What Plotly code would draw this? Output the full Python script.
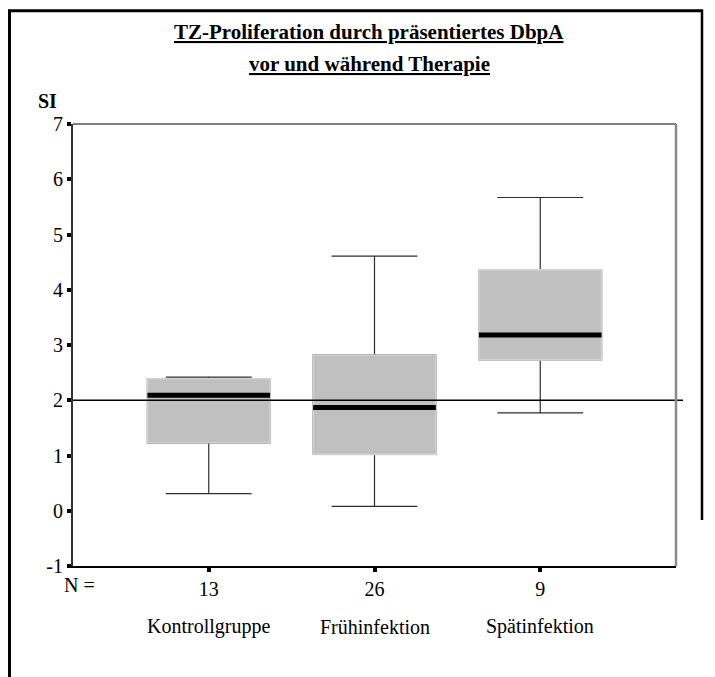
import plotly.graph_objects as go

# Group data: T-cell proliferation (stimulation index) per patient group
categories = ["Kontrollgruppe", "Frühinfektion", "Spätinfektion"]
counts = [13, 26, 9]
lower_whisker = [0.31, 0.08, 1.77]
q1 = [1.23, 1.02, 2.73]
median = [2.09, 1.87, 3.18]
q3 = [2.39, 2.82, 4.36]
upper_whisker = [2.42, 4.61, 5.67]
threshold = 2.0
y_ticks = [-1, 0, 1, 2, 3, 4, 5, 6, 7]
y_tick_text = ["-1", "0", "1", "2", "3", "4", "5", "6", "7"]

positions = [i + 1 for i in range(len(categories))]
box_width = 0.74
FONT = "Liberation Serif"

# Plot area in pixels (used to place page-level decoration)
W, H = 715, 677
L, R, T, B = 73, 676, 123.5, 566


def px(x):
    return (x - L) / (R - L)


def py(y):
    return (B - y) / (B - T)


fig = go.Figure()

# Whiskers (dark) with box
for p, lo, a, m, b, hi in zip(positions, lower_whisker, q1, median, q3, upper_whisker):
    fig.add_trace(go.Box(
        x=[p], q1=[a], median=[m], q3=[b], lowerfence=[lo], upperfence=[hi],
        width=box_width, whiskerwidth=0.7,
        line=dict(color="#2e2e2e", width=1.2),
        fillcolor="#c0c0c0", boxpoints=False, hoverinfo="skip", showlegend=False,
    ))

# Box body with light outline on top of the whisker trace
for p, a, m, b in zip(positions, q1, median, q3):
    fig.add_trace(go.Box(
        x=[p], q1=[a], median=[m], q3=[b], lowerfence=[a], upperfence=[b],
        width=box_width, whiskerwidth=0,
        line=dict(color="#d2d2d2", width=1.6),
        fillcolor="#c0c0c0", boxpoints=False, hoverinfo="skip", showlegend=False,
    ))

# Thick median bars
for p, m in zip(positions, median):
    fig.add_trace(go.Scatter(
        x=[p - box_width / 2, p + box_width / 2], y=[m, m], mode="lines",
        line=dict(color="black", width=5), hoverinfo="skip", showlegend=False,
    ))

shapes = [
    # reference line at SI = 2
    dict(type="line", xref="paper", yref="y", x0=0, x1=px(683), y0=threshold, y1=threshold,
         line=dict(color="black", width=1.3), layer="above"),
    # top and right edges of the plot frame
    dict(type="line", xref="paper", yref="paper", x0=0, x1=1, y0=1, y1=1,
         line=dict(color="black", width=1.2)),
    dict(type="line", xref="paper", yref="paper", x0=1, x1=1, y0=0, y1=1,
         line=dict(color="#8a8a8a", width=2.5)),
    # page frame
    dict(type="line", xref="paper", yref="paper", x0=px(9.5), x1=px(9.5), y0=py(9), y1=py(680),
         line=dict(color="black", width=3)),
    dict(type="line", xref="paper", yref="paper", x0=px(8), x1=px(703), y0=py(10), y1=py(10),
         line=dict(color="black", width=3)),
    dict(type="line", xref="paper", yref="paper", x0=px(702), x1=px(702), y0=py(9), y1=py(520),
         line=dict(color="black", width=2.5)),
]

annotations = [
    dict(text="<b><u>TZ-Proliferation durch präsentiertes DbpA</u></b>", x=px(369), y=py(31),
         xref="paper", yref="paper", showarrow=False, xanchor="center", yanchor="middle",
         font=dict(family=FONT, size=21, color="black")),
    dict(text="<b><u>vor und während Therapie</u></b>", x=px(369), y=py(63),
         xref="paper", yref="paper", showarrow=False, xanchor="center", yanchor="middle",
         font=dict(family=FONT, size=21, color="black")),
    dict(text="<b>SI</b>", x=px(47), y=py(100), xref="paper", yref="paper", showarrow=False,
         xanchor="center", yanchor="middle", font=dict(family=FONT, size=20, color="black")),
    dict(text="N =", x=px(79), y=py(585), xref="paper", yref="paper", showarrow=False,
         xanchor="center", yanchor="middle", font=dict(family=FONT, size=20, color="black")),
]
for p, name in zip(positions, categories):
    annotations.append(dict(
        text=name, x=p, y=py(627), xref="x", yref="paper", showarrow=False,
        xanchor="center", yanchor="middle", font=dict(family=FONT, size=20, color="black"),
    ))

fig.update_layout(
    width=W, height=H,
    margin=dict(l=L, r=W - R, t=T, b=H - B, pad=0),
    paper_bgcolor="white", plot_bgcolor="white",
    boxmode="overlay",
    shapes=shapes, annotations=annotations,
    font=dict(family=FONT, size=20, color="black"),
    xaxis=dict(
        range=[positions[0] - 0.819, positions[-1] + 0.819],
        tickmode="array", tickvals=positions, ticktext=[str(c) for c in counts],
        ticks="outside", ticklen=4, tickwidth=4, tickcolor="black",
        showline=True, linecolor="black", linewidth=1.5,
        showgrid=False, zeroline=False, fixedrange=True,
        tickfont=dict(family=FONT, size=20, color="black"),
    ),
    yaxis=dict(
        range=[-1, 7], tickmode="array", tickvals=y_ticks, ticktext=y_tick_text,
        ticks="outside", ticklen=4, tickwidth=4, tickcolor="black",
        showline=True, linecolor="#333333", linewidth=2,
        showgrid=False, zeroline=False, fixedrange=True,
        tickfont=dict(family=FONT, size=20, color="black"),
    ),
)

fig.write_html("out.html")
